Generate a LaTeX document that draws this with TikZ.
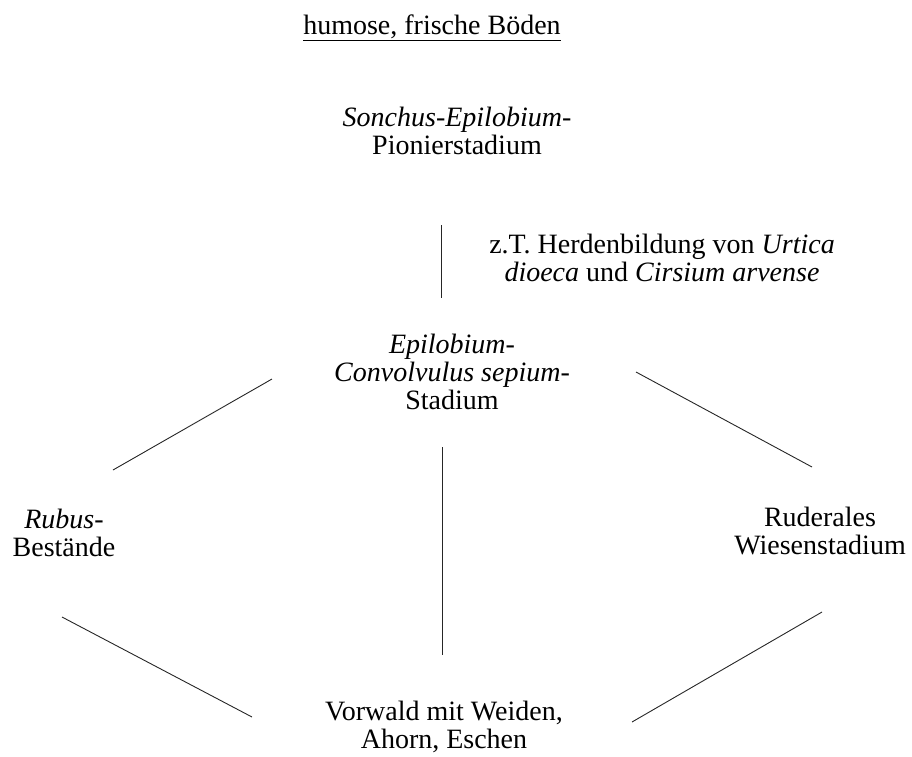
\documentclass[tikz,border=0pt]{standalone}
\usepackage{fontspec}
\setmainfont{Liberation Serif}
\begin{document}
\begin{tikzpicture}[x=1pt,y=-1pt,
  lbl/.style={align=center,inner sep=0pt,font=\fontsize{28}{28}\selectfont},
  conn/.style={draw=black!85,line width=0.9pt}]
\useasboundingbox (0,0) rectangle (912,756);
\node[lbl,anchor=base] (title) at (432,34) {\underline{humose, frische Böden}};
\node[lbl] (sonchus) at (457,131) {\textit{Sonchus-Epilobium-}\\Pionierstadium};
\node[lbl] (note) at (662,258) {z.T. Herdenbildung von \textit{Urtica}\\\textit{dioeca} und \textit{Cirsium arvense}};
\node[lbl] (epi) at (452,372) {\textit{Epilobium-}\\\textit{Convolvulus sepium-}\\Stadium};
\node[lbl] (rubus) at (64,533) {\textit{Rubus}-\\Bestände};
\node[lbl] (rud) at (820,531) {Ruderales\\Wiesenstadium};
\node[lbl] (vor) at (444,727) {Vorwald mit Weiden,\\Ahorn, Eschen};
\coordinate (v1a) at (441,225); \coordinate (v1b) at (441,298);
\coordinate (lua) at (272,379); \coordinate (lub) at (113,470);
\coordinate (rua) at (636,372); \coordinate (rub) at (812,467);
\coordinate (v2a) at (442,447); \coordinate (v2b) at (442,655);
\coordinate (lla) at (62,617); \coordinate (llb) at (252,717);
\coordinate (rla) at (822,612); \coordinate (rlb) at (632,722);
\draw[conn] (v1a) -- (v1b);
\draw[conn] (lua) -- (lub);
\draw[conn] (rua) -- (rub);
\draw[conn] (v2a) -- (v2b);
\draw[conn] (lla) -- (llb);
\draw[conn] (rla) -- (rlb);
\end{tikzpicture}
\end{document}
